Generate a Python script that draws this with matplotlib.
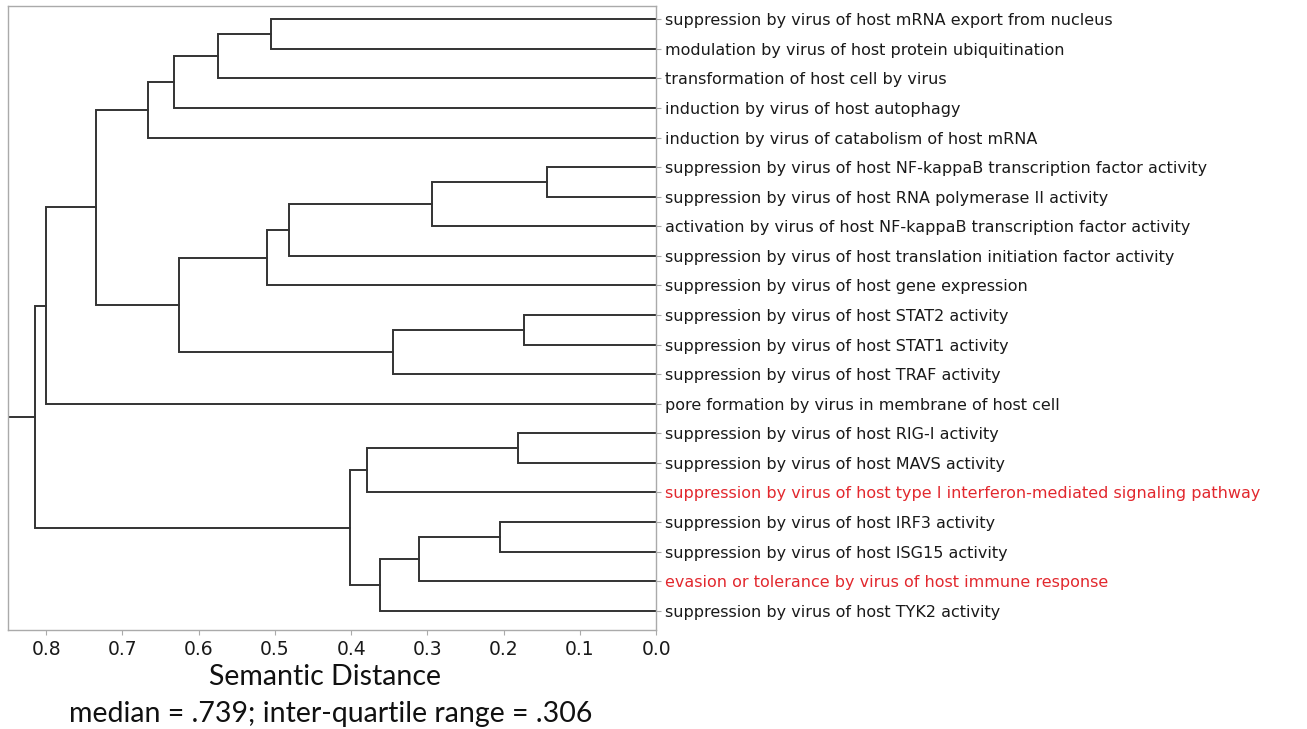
import matplotlib
matplotlib.use("Agg")
import matplotlib.pyplot as plt

# leaf labels, top to bottom
labels = [
    "suppression by virus of host mRNA export from nucleus",
    "modulation by virus of host protein ubiquitination",
    "transformation of host cell by virus",
    "induction by virus of host autophagy",
    "induction by virus of catabolism of host mRNA",
    "suppression by virus of host NF-kappaB transcription factor activity",
    "suppression by virus of host RNA polymerase II activity",
    "activation by virus of host NF-kappaB transcription factor activity",
    "suppression by virus of host translation initiation factor activity",
    "suppression by virus of host gene expression",
    "suppression by virus of host STAT2 activity",
    "suppression by virus of host STAT1 activity",
    "suppression by virus of host TRAF activity",
    "pore formation by virus in membrane of host cell",
    "suppression by virus of host RIG-I activity",
    "suppression by virus of host MAVS activity",
    "suppression by virus of host type I interferon-mediated signaling pathway",
    "suppression by virus of host IRF3 activity",
    "suppression by virus of host ISG15 activity",
    "evasion or tolerance by virus of host immune response",
    "suppression by virus of host TYK2 activity",
]
highlighted = [16, 19]

# merges: new cluster ids start at len(labels)
merge_a = [0, 21, 22, 23, 5, 25, 26, 27, 10, 29, 28, 24, 32, 14, 34, 17, 36, 37, 35, 33]
merge_b = [1, 2, 3, 4, 6, 7, 8, 9, 11, 12, 30, 31, 13, 15, 16, 18, 19, 20, 38, 39]
heights = [0.505, 0.574, 0.632, 0.666, 0.143, 0.294, 0.482, 0.511, 0.173, 0.345,
           0.626, 0.735, 0.800, 0.181, 0.379, 0.205, 0.311, 0.362, 0.401, 0.815]

n = len(labels)
pos = {i: (0.0, 5 + 10 * i) for i in range(n)}

fig = plt.figure(figsize=(13.07, 7.29), dpi=100)
ax = fig.add_axes([0.0061, 0.1358, 0.4960, 0.8560])

line_col = "#333333"
for k, (a, b, h) in enumerate(zip(merge_a, merge_b, heights)):
    xa, ya = pos[a]
    xb, yb = pos[b]
    ax.plot([xa, h, h, xb], [ya, ya, yb, yb], color=line_col, lw=1.4,
            solid_joinstyle="miter")
    pos[n + k] = (h, (ya + yb) / 2)

# root stub to the axis edge
xmax = 0.85
root_h, root_y = pos[n + len(heights) - 1]
ax.plot([root_h, xmax], [root_y, root_y], color=line_col, lw=1.4)

ax.set_xlim(xmax, 0)
ax.set_ylim(10 * n + 1.5, 0.5)
ax.set_xticks([0.8, 0.7, 0.6, 0.5, 0.4, 0.3, 0.2, 0.1, 0.0])
ax.set_xticklabels(["0.8", "0.7", "0.6", "0.5", "0.4", "0.3", "0.2", "0.1", "0.0"])
ax.tick_params(axis="x", labelsize=13.5, colors="#aaaaaa", labelcolor="#1a1a1a",
               length=3.5, width=0.8)

ax.yaxis.tick_right()
ax.set_yticks([5 + 10 * i for i in range(n)])
ax.set_yticklabels(labels)
ax.tick_params(axis="y", labelsize=11.5, colors="#aaaaaa", labelcolor="#1a1a1a",
               length=3.5, width=0.8, pad=3)
for i in highlighted:
    ax.get_yticklabels()[i].set_color("#e2282e")

for s in ax.spines.values():
    s.set_color("#aaaaaa")
    s.set_linewidth(1.0)

fig.text(0.249, 0.071, "Semantic Distance", fontsize=20.5, family="Lato",
         ha="center", va="center", color="#111111")
fig.text(0.253, 0.020, "median = .739; inter-quartile range = .306", fontsize=20.5,
         family="Lato", ha="center", va="center", color="#111111")

fig.savefig("out.png", dpi=100)
